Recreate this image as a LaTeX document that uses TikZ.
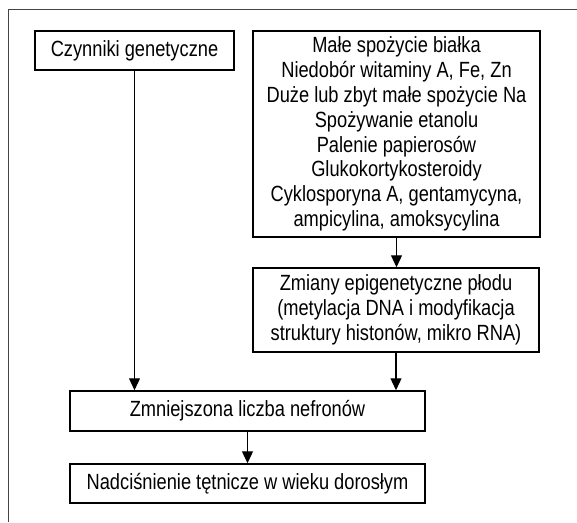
\documentclass[tikz,border=0pt]{standalone}
\usepackage{fontspec}
\setmainfont[FakeStretch=0.83]{Liberation Sans}
\usetikzlibrary{arrows.meta}
\definecolor{framegray}{HTML}{444444}
\tikzset{
  box/.style={draw, line width=1.5pt, align=center, inner sep=0pt, font=\fontsize{22}{24.8}\selectfont},
  arr/.style={-{Triangle[width=11pt,length=12pt]}, line width=1.2pt}
}

\begin{document}
\begin{tikzpicture}[x=1pt,y=-1pt]
\useasboundingbox (0,0) rectangle (577,522);
\draw[framegray, line width=1.8pt] (577,9.5) -- (8.5,9.5) -- (8.5,522); %outer frame

\node[box, minimum width=199pt, minimum height=39pt] (gen) at (134.5,50.5) {Czynniki genetyczne};
\node[box, minimum width=287pt, minimum height=206pt] (env) at (396.5,134) {Małe spożycie białka\\Niedobór witaminy A, Fe, Zn\\Duże lub zbyt małe spożycie Na\\Spożywanie etanolu\\Palenie papierosów\\Glukokortykosteroidy\\Cyklosporyna A, gentamycyna,\\ampicylina, amoksycylina};
\node[box, minimum width=286pt, minimum height=84pt] (epi) at (396,310) {Zmiany epigenetyczne płodu\\(metylacja DNA i modyfikacja\\struktury histonów, mikro RNA)};
\node[box, minimum width=355pt, minimum height=40pt] (nef) at (247.5,411) {Zmniejszona liczba nefronów};
\node[box, minimum width=355pt, minimum height=39pt] (htn) at (247.5,483.5) {Nadciśnienie tętnicze w wieku dorosłym};

\draw[arr] (gen.south) -- (gen.south |- nef.north);
\draw[arr] (env.south) -- (env.south |- epi.north);
\draw[arr] (epi.south) -- (epi.south |- nef.north);
\draw[arr] (nef.south) -- (htn.north);

\end{tikzpicture}
\end{document}
